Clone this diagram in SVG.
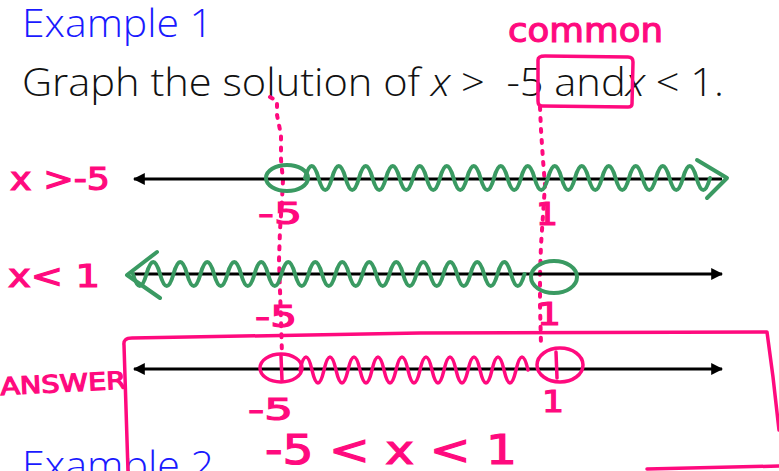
<svg xmlns="http://www.w3.org/2000/svg" width="779" height="471" viewBox="0 0 779 471">
<style>
.title{font-family:"Open Sans","Liberation Sans",Arial,sans-serif;font-weight:300;fill:#1a1aff}
.body{font-family:"Open Sans","Liberation Sans",Arial,sans-serif;font-weight:300;fill:#111}
.hand{font-family:"DejaVu Sans","Liberation Sans",sans-serif;fill:#ff0a7e;stroke:#ff0a7e;stroke-width:1.2}
.axis{stroke:#000;stroke-width:3;fill:none}
.pink{stroke:#ff0a7e;stroke-width:3.5;fill:none;stroke-linecap:round;stroke-linejoin:round}
.green{stroke:#3a9a62;stroke-width:4;fill:none;stroke-linecap:round;stroke-linejoin:round}
.dots{stroke:#ff0a7e;stroke-width:4;fill:none;stroke-linecap:round;stroke-dasharray:3 8}
</style>
<defs>
<marker id="ah" viewBox="0 0 10 10" refX="9" refY="5" markerWidth="4" markerHeight="4" orient="auto-start-reverse" markerUnits="strokeWidth">
<path d="M0,0 L10,5 L0,10 z" fill="#000"/>
</marker>
</defs>
<rect width="779" height="471" fill="#fff"/>

<g id="heading">
<text class="title" x="22" y="37" font-size="38" textLength="191" lengthAdjust="spacingAndGlyphs">Example 1</text>
<text class="body" x="22" y="96" font-size="38" textLength="702" lengthAdjust="spacingAndGlyphs" xml:space="preserve">Graph the solution of <tspan font-style="italic">x</tspan> &gt;  -5 and<tspan font-style="italic">x</tspan> &lt; 1.</text>
<text class="title" x="22" y="479" font-size="38" textLength="192" lengthAdjust="spacingAndGlyphs">Example 2</text>
</g>

<g id="annotations">
<text class="hand" x="508" y="42" font-size="34" textLength="155" lengthAdjust="spacingAndGlyphs">common</text>
<path class="pink" d="M538,60 Q538,56 545,56 L628,57 Q633,57 633,62 L632,104 Q632,107 628,107 L542,106 Q538,106 538,101 Z"/>
<path class="dots" d="M270,97 L277,101 L277,115 L281,135 L281,160 L283,180 L282,200 L280,230 L279,260 L280,290 L281,320 L282,355"/>
<path class="dots" d="M540,107 L541,130 L543,160 L545,185 L543,215 L541,245 L540,275 L540,305 L541,345"/>
</g>

<g id="line1">
<line class="axis" x1="134" y1="179" x2="722" y2="179" marker-start="url(#ah)"/>
<ellipse class="green" cx="287" cy="178" rx="21" ry="13"/>
<path class="green" d="M305,178 q6.75,-24 13.5,0 t13.5,0 t13.5,0 t13.5,0 t13.5,0 t13.5,0 t13.5,0 t13.5,0 t13.5,0 t13.5,0 t13.5,0 t13.5,0 t13.5,0 t13.5,0 t13.5,0 t13.5,0 t13.5,0 t13.5,0 t13.5,0 t13.5,0 t13.5,0 t13.5,0 t13.5,0 t13.5,0 t13.5,0 t13.5,0 t13.5,0 t13.5,0 t13.5,0 t13.5,0"/>
<path class="green" d="M697,160 L727,178 L707,198"/>
<text class="hand" x="10" y="190" font-size="32" textLength="100" lengthAdjust="spacingAndGlyphs">x &gt;-5</text>
<text class="hand" x="258" y="224" font-size="30" textLength="44" lengthAdjust="spacingAndGlyphs">-5</text>
<text class="hand" x="536" y="225" font-size="32" textLength="22" lengthAdjust="spacingAndGlyphs">1</text>
</g>

<g id="line2">
<line class="axis" x1="134" y1="274" x2="722" y2="274" marker-end="url(#ah)"/>
<path class="green" d="M133,274 q6.75,24 13.5,0 t13.5,0 t13.5,0 t13.5,0 t13.5,0 t13.5,0 t13.5,0 t13.5,0 t13.5,0 t13.5,0 t13.5,0 t13.5,0 t13.5,0 t13.5,0 t13.5,0 t13.5,0 t13.5,0 t13.5,0 t13.5,0 t13.5,0 t13.5,0 t13.5,0 t13.5,0 t13.5,0 t13.5,0 t13.5,0 t13.5,0 t13.5,0 t13.5,0"/>
<path class="green" d="M157,252 L127,275 L160,298"/>
<ellipse class="green" cx="554" cy="277" rx="23" ry="16"/>
<text class="hand" x="8" y="287" font-size="32" textLength="92" lengthAdjust="spacingAndGlyphs">x&lt; 1</text>
<text class="hand" x="255" y="327" font-size="30" textLength="42" lengthAdjust="spacingAndGlyphs">-5</text>
<text class="hand" x="537" y="325" font-size="32" textLength="24" lengthAdjust="spacingAndGlyphs">1</text>
</g>

<g id="answer">
<path class="pink" d="M128,471 L124,345 Q123,338 132,338 L420,333 L767,332 L773,377 L779,430"/>
<path class="pink" d="M647,469 L779,466"/>
<line class="axis" x1="134" y1="369" x2="722" y2="369" marker-start="url(#ah)" marker-end="url(#ah)"/>
<ellipse class="pink" cx="281" cy="368" rx="21" ry="14"/>
<path class="pink" d="M300,370 q6,-26 12,0 t12,0 t12,0 t12,0 t12,0 t12,0 t12,0 t12,0 t12,0 t12,0 t12,0 t12,0 t12,0 t12,0 t12,0 t12,0 t12,0 t12,0 t12,0"/>
<ellipse class="pink" cx="560" cy="365" rx="23" ry="17"/>
<line class="pink" x1="556" y1="352" x2="557" y2="378"/>
<line class="pink" x1="281" y1="356" x2="282" y2="380"/>
<text class="hand" x="0" y="392" font-size="24" textLength="126" lengthAdjust="spacingAndGlyphs" transform="rotate(-3 60 380)">ANSWER</text>
<text class="hand" x="248" y="420" font-size="30" textLength="45" lengthAdjust="spacingAndGlyphs">-5</text>
<text class="hand" x="542" y="412" font-size="30" textLength="22" lengthAdjust="spacingAndGlyphs">1</text>
<text class="hand" x="265" y="464" font-size="40" textLength="252" lengthAdjust="spacingAndGlyphs">-5 &lt; x &lt; 1</text>
</g>
</svg>
